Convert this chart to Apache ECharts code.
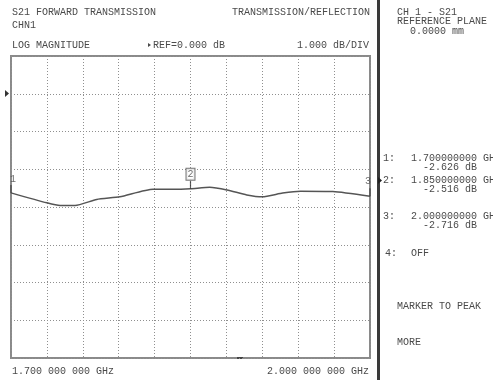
<!DOCTYPE html>
<html><head><meta charset="utf-8">
<script src="https://cdn.jsdelivr.net/npm/echarts@6/dist/echarts.min.js"></script>
<style>html,body{margin:0;padding:0;background:#fff}#c{width:493px;height:380px}</style>
</head><body><div id="c"></div>
<script>
// Trace: S21 forward transmission (GHz, dB)
var freqGHz = [1.700, 1.730, 1.741, 1.7535, 1.7716, 1.791, 1.8187, 1.835, 1.850, 1.866, 1.8805, 1.897, 1.910, 1.927, 1.942, 1.969, 2.000];
var s21dB   = [-2.626, -2.89, -2.96, -2.96, -2.80, -2.73, -2.53, -2.53, -2.516, -2.48, -2.55, -2.68, -2.73, -2.63, -2.58, -2.59, -2.716];
// Markers
var markerNames = ['1', '2', '3'];
var markerFreq = [1.70, 1.85, 2.00];
var markerDb = [-2.626, -2.516, -2.716];
// Axis settings
var yMin = -7, yMax = 1, yStep = 1;        // REF = 0 dB, 1 dB/DIV
var xStart = 1.7, xStop = 2.0, xDivs = 10;

var FONT = '"Liberation Mono", "DejaVu Sans Mono", monospace';
var TC = '#4a4a4a';
function txt(x, y, s, align) {
  return {type: 'text', x: x, y: y,
    style: {text: s, fill: TC, font: '10px ' + FONT, textAlign: align || 'left', textVerticalAlign: 'middle'}};
}

var chart = echarts.init(document.getElementById('c'), null, {renderer: 'canvas'});
var seriesData = freqGHz.map(function (f, i) { return [f, s21dB[i]]; });
var markerData = markerFreq.map(function (f, i) {
  var lab = {show: true, formatter: markerNames[i], color: TC, fontFamily: FONT, fontSize: 10, position: 'top'};
  if (i === 0) { lab.offset = [2, 4]; }
  if (i === 1) { lab.borderColor = '#555'; lab.borderWidth = 1; lab.padding = [1, 1, 0, 1]; lab.distance = 1; lab.backgroundColor = '#fff'; }
  if (i === 2) { lab.offset = [-2, 3]; }
  return {value: [f, markerDb[i]], label: lab};
});

chart.setOption({
  animation: false,
  grid: {left: 11, top: 56, right: 123, bottom: 22, show: true, borderColor: '#8a8a8a', borderWidth: 2, backgroundColor: 'transparent'},
  xAxis: [
    {type: 'value', min: xStart, max: xStop, show: false},
    {type: 'value', min: 0, max: xDivs, interval: 1, position: 'bottom',
      axisLine: {show: false}, axisTick: {show: false}, axisLabel: {show: false},
      splitLine: {show: true, lineStyle: {color: '#8f8f8f', width: 1, type: [1, 2]}}}
  ],
  yAxis: {type: 'value', min: yMin, max: yMax, interval: yStep,
    axisLine: {show: false}, axisTick: {show: false}, axisLabel: {show: false},
    splitLine: {show: true, lineStyle: {color: '#8f8f8f', width: 1, type: [1, 2]}}},
  series: [
    {type: 'line', xAxisIndex: 0, data: seriesData, smooth: 0.2, showSymbol: false,
      lineStyle: {color: '#555', width: 1.5}},
    {type: 'scatter', xAxisIndex: 0, yAxisIndex: 0, data: markerData, z: 5,
      symbol: 'rect', symbolSize: [1.2, 8], symbolOffset: [0, -4],
      itemStyle: {color: '#333'}}
  ],
  graphic: [
    txt(12, 12, 'S21 FORWARD TRANSMISSION'),
    txt(12, 25, 'CHN1'),
    txt(12, 45, 'LOG MAGNITUDE'),
    {type: 'polygon', shape: {points: [[148, 43], [151, 45], [148, 47]]}, style: {fill: TC}},
    txt(153, 45, 'REF=0.000 dB'),
    txt(370, 12, 'TRANSMISSION/REFLECTION', 'right'),
    txt(369, 45, '1.000 dB/DIV', 'right'),
    {type: 'polygon', shape: {points: [[5, 90], [9, 93.5], [5, 97]]}, style: {fill: '#333'}},
    {type: 'rect', shape: {x: 237, y: 357, width: 6, height: 2}, style: {fill: '#444'}},
    txt(12, 371, '1.700 000 000 GHz'),
    txt(369, 371, '2.000 000 000 GHz', 'right'),
    {type: 'rect', shape: {x: 377, y: 0, width: 3, height: 380}, style: {fill: '#3a3a3a'}},
    txt(397, 12, 'CH 1 - S21'),
    txt(397, 21, 'REFERENCE PLANE'),
    txt(410, 31, '0.0000 mm'),
    txt(383, 158, '1:'),
    txt(411, 158, '1.700000000 GHz'),
    txt(423, 167, '-2.626 dB'),
    {type: 'polygon', shape: {points: [[378, 177], [382, 180.5], [378, 184]]}, style: {fill: '#222'}},
    txt(383, 180, '2:'),
    txt(411, 180, '1.850000000 GHz'),
    txt(423, 189, '-2.516 dB'),
    txt(383, 216, '3:'),
    txt(411, 216, '2.000000000 GHz'),
    txt(423, 225, '-2.716 dB'),
    txt(385, 253, '4:'),
    txt(411, 253, 'OFF'),
    txt(397, 306, 'MARKER TO PEAK'),
    txt(397, 342, 'MORE')
  ]
});
</script></body></html>
